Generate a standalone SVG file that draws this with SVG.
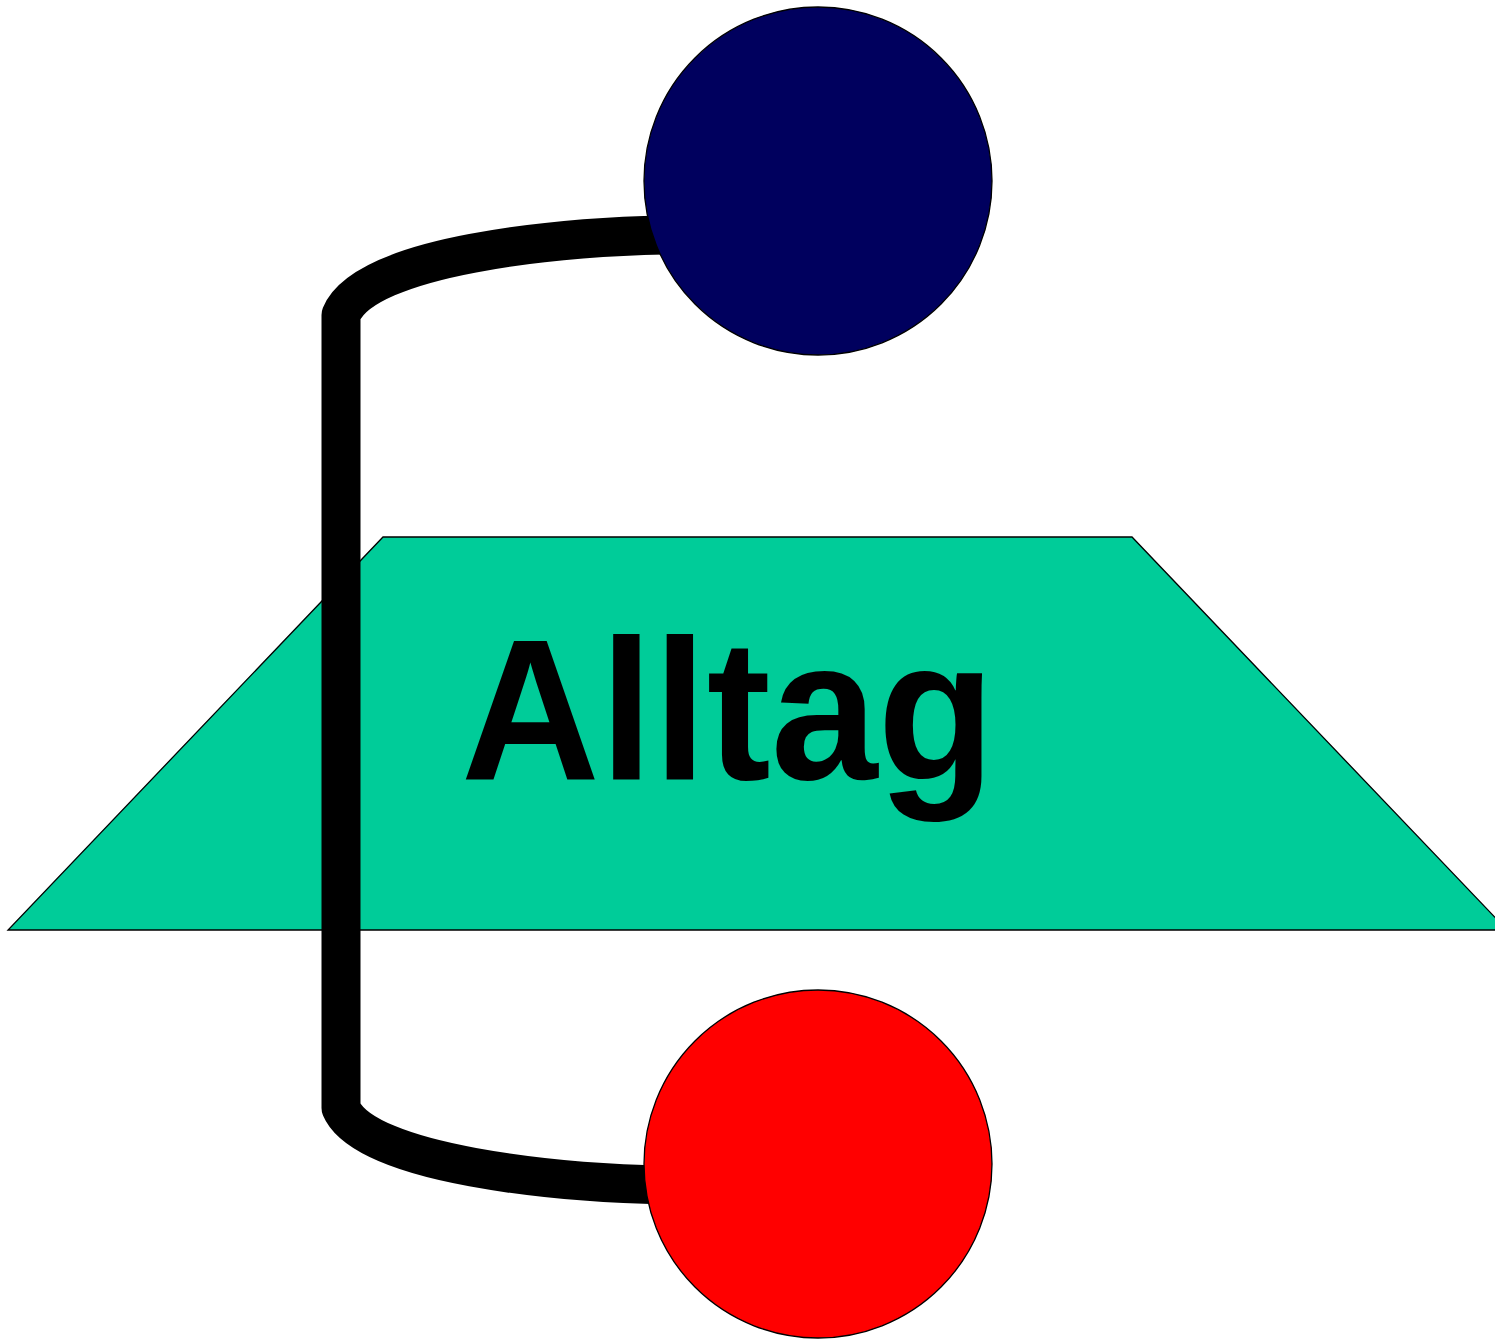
<svg xmlns="http://www.w3.org/2000/svg" width="1495" height="1340" viewBox="0 0 1495 1340">
<style>
.node{stroke:#000;stroke-width:1.3}
.conn{fill:none;stroke:#000;stroke-width:39;stroke-linejoin:round;stroke-linecap:butt}
.label{font-family:"Liberation Sans",Arial,sans-serif;font-weight:bold;font-size:200px;fill:#000}
</style>
<rect width="1495" height="1340" fill="#fff"/>
<g id="alltag">
<polygon class="node" points="383,537 1132,537 1507,930 8,930" fill="#00CC99"/>
</g>
<g id="connectors">
<path class="conn" d="M 665,235 C 560,237 365,255 341,315 L 341,1108 C 365,1165 560,1183 665,1185"/>
</g>
<g id="alltag-label">
<text class="label" x="461" y="779" textLength="534" lengthAdjust="spacingAndGlyphs">Alltag</text>
</g>
<g id="top-node">
<circle class="node" cx="818" cy="181" r="174" fill="#00005E"/>
</g>
<g id="bottom-node">
<circle class="node" cx="818" cy="1164" r="174" fill="#FF0000"/>
</g>
</svg>
